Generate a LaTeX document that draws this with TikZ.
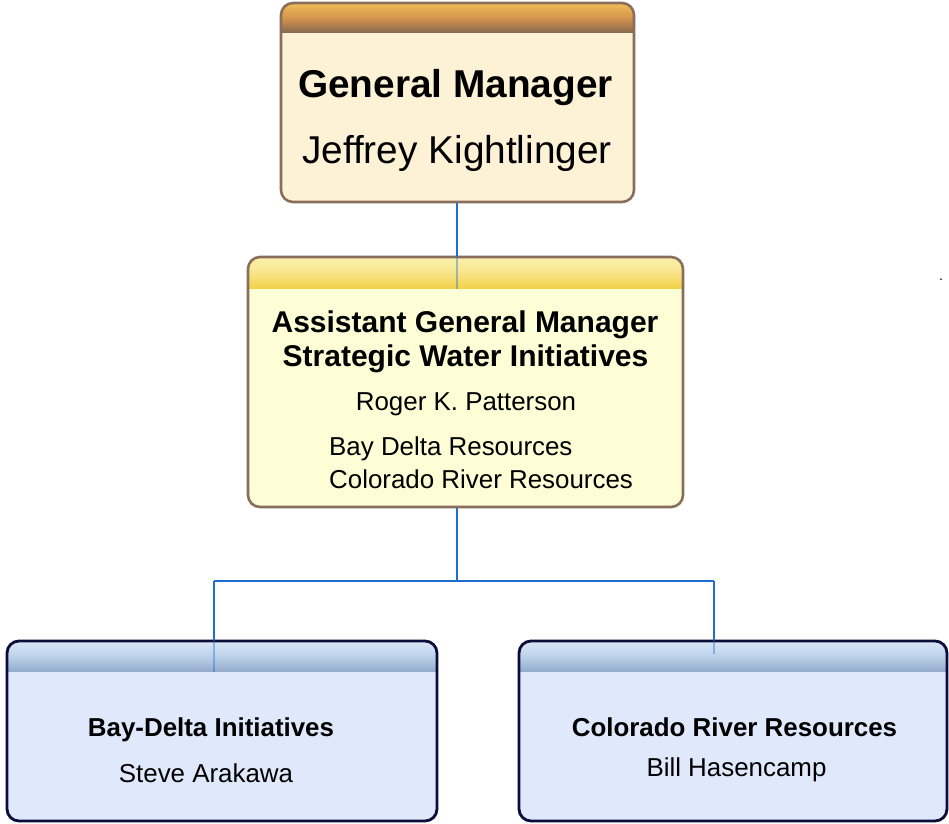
\documentclass[tikz,border=0pt]{standalone}
\usepackage{fontspec}
\setmainfont{Liberation Sans}
\usetikzlibrary{positioning,calc}
\definecolor{brownline}{HTML}{8A6E5C}
\definecolor{navyline}{HTML}{0C0C3A}
\definecolor{wireblue}{HTML}{1F6FD0}
\definecolor{gmfill}{HTML}{FDF2D6}
\definecolor{gmtop}{HTML}{EFBE56}
\definecolor{gmmid}{HTML}{D6944E}
\definecolor{gmbot}{HTML}{8A6A4E}
\definecolor{agmfill}{HTML}{FDFDD6}
\definecolor{agmtop}{HTML}{FBF2B0}
\definecolor{agmmid}{HTML}{F8E488}
\definecolor{agmbot}{HTML}{F2D248}
\definecolor{unitfill}{HTML}{DFE9FB}
\definecolor{unittop}{HTML}{DAE7F5}
\definecolor{unitmid}{HTML}{BCD2EA}
\definecolor{unitbot}{HTML}{94AACB}
\newcommand\headshade[4]{%
  \foreach \i in {0,...,#4} {
    \pgfmathtruncatemacro\p{200*\i/#4}
    \ifnum\p<100 \colorlet{bandcol}{#2!\p!#1}\else\pgfmathtruncatemacro\q{\p-100}\colorlet{bandcol}{#3!\q!#2}\fi
    \fill[bandcol,sharp corners] ([xshift=-2pt,yshift=-\i pt]path picture bounding box.north west) rectangle ([xshift=2pt,yshift=-\i pt-1.4pt]path picture bounding box.north east);
  }}
\tikzstyle{box}=[draw,rounded corners=12pt,line width=2.6pt,inner sep=0pt]
\tikzstyle{gmbox}=[box,draw=brownline,fill=gmfill,path picture={\headshade{gmtop}{gmmid}{gmbot}{29}}]
\tikzstyle{agmbox}=[box,draw=brownline,fill=agmfill,path picture={\headshade{agmtop}{agmmid}{agmbot}{31}}]
\tikzstyle{unitbox}=[box,line width=2.8pt,draw=navyline,fill=unitfill,path picture={\headshade{unittop}{unitmid}{unitbot}{30}}]
\tikzstyle{label}=[anchor=base,inner sep=0pt]
\tikzstyle{huge}=[label,font=\fontsize{38.8}{44}\selectfont]
\tikzstyle{title}=[label,font=\bfseries\fontsize{30}{34}\selectfont]
\tikzstyle{small}=[label,font=\fontsize{25.9}{30}\selectfont]
\tikzstyle{wire}=[draw=wireblue,line width=1.6pt]
\tikzstyle{faint}=[draw=wireblue,line width=1.6pt,draw opacity=0.4]

\begin{document}
\begin{tikzpicture}[x=1pt,y=-1pt]
\useasboundingbox (0,0) rectangle (949,823);
\node [gmbox,minimum width=353pt,minimum height=199pt] (gm) at (457.5,102.5) {};
\node [agmbox,minimum width=435pt,minimum height=250pt] (agm) at (465.5,382) {};
\node [unitbox,minimum width=430pt,minimum height=180pt] (bay) at (222,731) {};
\node [unitbox,minimum width=428pt,minimum height=180pt] (cr) at (733,731) {};

\node [huge,font=\bfseries\fontsize{38.8}{44}\selectfont] (gmtitle) at (455.5,97) {General Manager};
\node [huge] (gmname) at (457,163) {Jeffrey Kightlinger};
\node [title] (agmtitle) at (465,332) {Assistant General Manager};
\node [title] (agmsub) at (465.5,366) {Strategic Water Initiatives};
\node [small] (agmname) at (466,410) {Roger K. Patterson};
\node [small,anchor=base west] (agmbay) at (329,455) {Bay Delta Resources};
\node [small,anchor=base west] (agmcr) at (329,488) {Colorado River Resources};
\node [small,font=\bfseries\fontsize{25.9}{30}\selectfont] (baytitle) at (211,736) {Bay-Delta Initiatives};
\node [small] (bayname) at (206,782) {Steve Arakawa};
\node [small,font=\bfseries\fontsize{25.9}{30}\selectfont] (crtitle) at (734.5,736) {Colorado River Resources};
\node [small] (crname) at (736.5,776) {Bill Hasencamp};
\node [label,font=\fontsize{14}{16}\selectfont] (dot) at (941,280) {.};

\coordinate (trunk) at (457,581);
\coordinate (lbranch) at (214,581);
\coordinate (rbranch) at (714,581);
\coordinate (agmhead) at (457,289);
\coordinate (bayhead) at (214,672);
\coordinate (crhead) at (714,654);

\draw [wire] (trunk |- gm.south) -- (trunk |- agm.north);
\draw [faint] (trunk |- agm.north) -- (agmhead);
\draw [wire] (trunk |- agm.south) -- (trunk);
\draw [wire] (lbranch) -- (rbranch);
\draw [wire] (lbranch) -- (lbranch |- bay.north);
\draw [faint] (lbranch |- bay.north) -- (bayhead);
\draw [wire] (rbranch) -- (rbranch |- cr.north);
\draw [faint] (rbranch |- cr.north) -- (crhead);
\end{tikzpicture}
\end{document}
